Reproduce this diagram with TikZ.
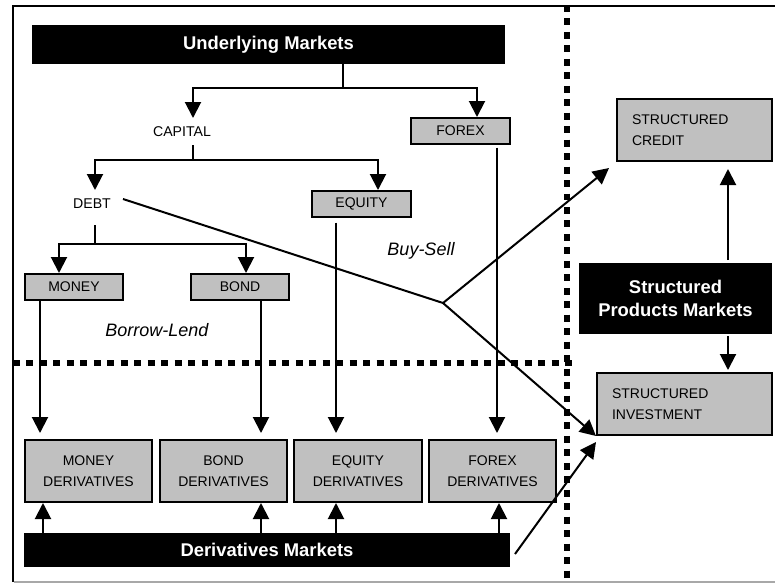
\documentclass[tikz,border=0pt]{standalone}
\usepackage{fontspec}
\setmainfont{Liberation Sans}
\usetikzlibrary{arrows.meta,calc}
\definecolor{boxgrey}{HTML}{C0C0C0}
\definecolor{edgegrey}{HTML}{A8A8A8}

\tikzset{
  conn/.style={line width=1.5pt},
  arr/.style={conn, -{Triangle[width=12pt,length=12pt]}},
  gbox/.style={draw, line width=1.5pt, fill=boxgrey, inner sep=0pt, align=center,
    font=\fontsize{10.5}{15.7}\selectfont},
  leftbox/.style={gbox, align=left, inner xsep=11.25pt},
  bbar/.style={fill=black, text=white, inner sep=0pt, align=center,
    font=\bfseries\fontsize{13.8}{17.2}\selectfont},
  lbl/.style={inner sep=0pt, font=\fontsize{10.6}{13}\selectfont},
  flow/.style={inner sep=0pt, font=\itshape\fontsize{13.5}{16}\selectfont},
  sep/.style={line width=5pt, dash pattern=on 5.2pt off 4.9pt}
}

\begin{document}
\begin{tikzpicture}[x=0.75pt,y=-0.75pt]
\useasboundingbox (0,0) rectangle (775,583);

% outer frame (open on the right)
\draw[line width=1.5pt] (775,5.5) -- (13,5.5) -- (13,581.5);
\draw[line width=1.5pt, edgegrey] (13.7,581.5) -- (775,581.5);

% market separators
\draw[sep] (567,5) -- (567,578);
\draw[sep] (13,363) -- (578,363);

% underlying markets
\node[bbar, minimum width=354.75pt, minimum height=29.25pt] (um) at (268.5,44.5) {Underlying Markets};
\node[lbl] (capital) at (182,132) {CAPITAL};
\node[gbox, minimum width=74.25pt, minimum height=19.5pt] (forex) at (460.5,131) {FOREX};
\node[lbl] (debt) at (92,204) {DEBT};
\node[gbox, minimum width=74.25pt, minimum height=19.5pt] (equity) at (361.5,204) {EQUITY};
\node[gbox, minimum width=73.5pt, minimum height=19.5pt] (money) at (74,287) {MONEY};
\node[gbox, minimum width=73.5pt, minimum height=19.5pt] (bond) at (240,287) {BOND};

\node[flow] (borrow) at (157,330) {Borrow-Lend};
\node[flow] (buysell) at (421,251) {Buy-Sell};

% derivatives markets
\node[gbox, minimum width=95.25pt, minimum height=46.5pt] (md) at (88.5,471) {MONEY\\DERIVATIVES};
\node[gbox, minimum width=95.25pt, minimum height=46.5pt] (bd) at (223.5,471) {BOND\\DERIVATIVES};
\node[gbox, minimum width=96pt, minimum height=46.5pt] (ed) at (358,471) {EQUITY\\DERIVATIVES};
\node[gbox, minimum width=95.25pt, minimum height=46.5pt] (fd) at (492.5,471) {FOREX\\DERIVATIVES};
\node[bbar, minimum width=364.5pt, minimum height=25.5pt] (dm) at (267,550) {Derivatives Markets};

% structured products markets
\node[leftbox, text width=93.75pt, minimum height=46.5pt] (sc) at (694.5,130) {STRUCTURED\\CREDIT};
\node[bbar, minimum width=144.75pt, minimum height=53.25pt] (spm) at (675.5,298.5) {Structured\\Products Markets};
\node[leftbox, text width=108.75pt, minimum height=46.5pt] (si) at (684.5,404) {STRUCTURED\\INVESTMENT};

% column positions of the vertical connectors
\coordinate (xF) at (477,0);
\coordinate (xE) at (378,0);
\coordinate (xM) at (59,0);
\coordinate (xB) at (246,0);
\coordinate (x40) at (40,0);
\coordinate (x43) at (43,0);
\coordinate (x261) at (261,0);
\coordinate (x336) at (336,0);
\coordinate (x497) at (497,0);
\coordinate (x499) at (499,0);
\coordinate (x728) at (728,0);

% underlying markets tree
\coordinate (ua) at (343,88);
\coordinate (capin) at (193,118);
\draw[conn] (um.south -| ua) -- (ua);
\draw[arr] (ua) -| (capin);
\draw[arr] (ua) -| (forex.north -| xF);

\coordinate (capout) at (193,145);
\coordinate (cb) at (193,160);
\coordinate (debtin) at (95,190);
\draw[conn] (capout) -- (cb);
\draw[arr] (cb) -| (debtin);
\draw[arr] (cb) -| (equity.north -| xE);

\coordinate (debtout) at (95,225);
\coordinate (db) at (95,244);
\draw[conn] (debtout) -- (db);
\draw[arr] (db) -| (money.north -| xM);
\draw[arr] (db) -| (bond.north -| xB);

% underlying to derivatives
\draw[arr, shorten >=4.5pt] (money.south -| x40) -- (md.north -| x40);
\draw[arr, shorten >=4.5pt] (bond.south -| x261) -- (bd.north -| x261);
\draw[arr, shorten <=3.5pt, shorten >=4.5pt] (equity.south -| x336) -- (ed.north -| x336);
\draw[arr, shorten <=2pt, shorten >=4.5pt] (forex.south -| x497) -- (fd.north -| x497);

% derivatives markets to its products
\draw[arr] (dm.north -| x43) -- (md.south -| x43);
\draw[arr] (dm.north -| x261) -- (bd.south -| x261);
\draw[arr] (dm.north -| x336) -- (ed.south -| x336);
\draw[arr] (dm.north -| x499) -- (fd.south -| x499);

% structured products markets
\draw[arr, shorten >=5.25pt] ([yshift=2pt]spm.north -| x728) -- (sc.south -| x728);
\draw[arr] ([yshift=-1.5pt]spm.south -| x728) -- ([yshift=1.5pt]si.north -| x728);

% flows into structured products
\coordinate (ds) at (123,199);
\coordinate (dj) at (443,303);
\coordinate (scin) at (609,168);
\draw[conn] (ds) -- (dj);
\draw[arr] (dj) -- (scin);
\draw[arr] (dj) -- (si.south west);
\coordinate (dms) at (515,554);
\coordinate (siin) at (596,442);
\draw[arr] (dms) -- (siin);
\end{tikzpicture}
\end{document}
